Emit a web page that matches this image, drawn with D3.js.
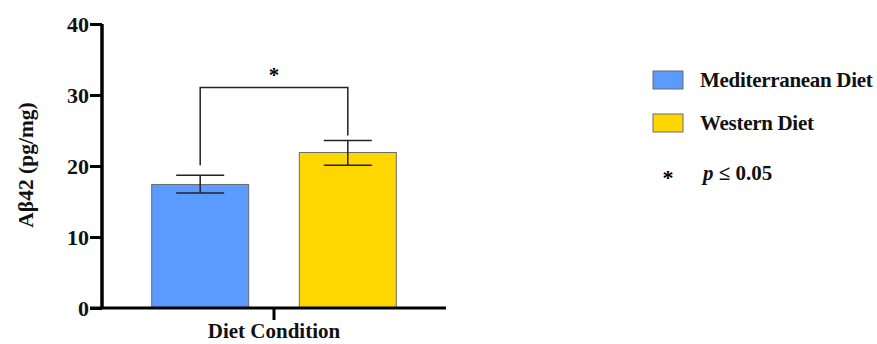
<!DOCTYPE html>
<html>
<head>
<meta charset="utf-8">
<script src="https://cdn.jsdelivr.net/npm/d3@7"></script>
<style>
  body { margin: 0; background: #fff; }
  svg { display: block; }
</style>
</head>
<body>
<div id="chart"></div>
<script>
// data
var groups = ["Mediterranean Diet", "Western Diet"];
var means = [17.4, 21.9];
var errLow = [16.2, 20.1];
var errHigh = [18.7, 23.6];
var colors = ["#5b9bff", "#ffd700"];
var yTicks = [0, 10, 20, 30, 40];
var xCategory = ["Diet Condition"];
var sigLabel = "*";

var serif = "'Liberation Serif', 'Times New Roman', Times, 'DejaVu Serif', serif";

var W = 877, H = 344;
var margin = {top: 24, left: 102, bottom: 36, right: 431};
var width = W - margin.left - margin.right,
    height = H - margin.top - margin.bottom;

var svg = d3.select("#chart")
  .append("svg")
    .attr("width", W)
    .attr("height", H);

var g = svg.append("g")
    .attr("transform", "translate(" + margin.left + "," + margin.top + ")");

var yScale = d3.scaleLinear()
    .domain([0, 40])
    .range([height, 0]);

var xScale = d3.scaleBand()
    .domain(groups)
    .range([49.7, 294.3])
    .paddingInner(0.343)
    .paddingOuter(0);

var xCat = d3.scaleBand()
    .domain(xCategory)
    .range([49.7, 294.3]);

// bars
g.selectAll("rect.bar")
  .data(groups)
  .enter()
  .append("rect")
    .attr("class", "bar")
    .attr("x", d => xScale(d))
    .attr("y", (d, i) => yScale(means[i]))
    .attr("width", xScale.bandwidth())
    .attr("height", (d, i) => yScale(0) - yScale(means[i]))
    .style("fill", (d, i) => colors[i])
    .style("stroke", "#6b6b6b")
    .style("stroke-width", 1);

// error bars
var capHalf = 24;
groups.forEach(function(d, i) {
  var cx = xScale(d) + xScale.bandwidth() / 2;
  g.append("line")
    .attr("x1", cx).attr("x2", cx)
    .attr("y1", yScale(errLow[i])).attr("y2", yScale(errHigh[i]))
    .style("stroke", "#222").style("stroke-width", 1.5);
  [errLow[i], errHigh[i]].forEach(function(v) {
    g.append("line")
      .attr("x1", cx - capHalf).attr("x2", cx + capHalf)
      .attr("y1", yScale(v)).attr("y2", yScale(v))
      .style("stroke", "#222").style("stroke-width", 1.5);
  });
});

// significance bracket
var bx1 = xScale(groups[0]) + xScale.bandwidth() / 2,
    bx2 = xScale(groups[1]) + xScale.bandwidth() / 2;
var bTop = yScale(31.05);
g.append("path")
  .attr("d", "M" + bx1 + "," + yScale(20.1) + "V" + bTop + "H" + bx2 + "V" + yScale(24.3))
  .style("fill", "none")
  .style("stroke", "#222")
  .style("stroke-width", 1.5);
g.append("text")
  .attr("x", (bx1 + bx2) / 2)
  .attr("y", bTop - 6)
  .attr("text-anchor", "middle")
  .style("font-size", "21px")
  .style("font-weight", "bold")
  .text(sigLabel);

// axes
var yAxis = g.append("g")
  .call(d3.axisLeft(yScale).tickValues(yTicks).tickSize(12).tickPadding(1));
yAxis.select(".domain").attr("d", "M0,0V" + height).style("stroke-width", 3.5);
yAxis.selectAll("line").style("stroke-width", 3);
yAxis.selectAll("text")
  .style("font-size", "22px")
  .style("font-weight", "bold")
  .attr("dy", "0.36em")
  .style("fill", "#111");

var xAxis = g.append("g")
  .attr("transform", "translate(0," + height + ")")
  .call(d3.axisBottom(xCat).tickSize(12).tickPadding(3));
xAxis.select(".domain").attr("d", "M-12,0H" + width).style("stroke-width", 3.2);
xAxis.selectAll("line").style("stroke-width", 3);
xAxis.selectAll("text")
  .attr("dy", "0.7em")
  .style("font-size", "21px")
  .style("font-weight", "bold")
  .style("fill", "#111");

// y axis title
svg.append("text")
  .attr("transform", "translate(33,165) rotate(-90)")
  .attr("text-anchor", "middle")
  .style("font-size", "21.5px")
  .style("font-weight", "bold")
  .style("fill", "#111")
  .text("Aβ42 (pg/mg)");

// legend
var legend = svg.append("g").attr("transform", "translate(653,71)");
groups.forEach(function(d, i) {
  var row = legend.append("g").attr("transform", "translate(0," + (i * 43) + ")");
  row.append("rect")
    .attr("width", 30).attr("height", 18)
    .style("fill", colors[i])
    .style("stroke", "#6b6b6b")
    .style("stroke-width", 1);
  row.append("text")
    .attr("x", 47).attr("y", 9)
    .attr("dy", "0.35em")
    .style("font-size", "21px")
    .style("font-weight", "bold")
    .style("letter-spacing", "-0.3px")
    .style("fill", "#111")
    .text(d);
});
var note = legend.append("g").attr("transform", "translate(0,102)");
note.append("text")
  .attr("x", 15).attr("y", 0)
  .attr("dy", "0.55em")
  .attr("text-anchor", "middle")
  .style("font-size", "22px")
  .style("font-weight", "bold")
  .text(sigLabel);
note.append("text")
  .attr("x", 50).attr("y", 0)
  .attr("dy", "0.35em")
  .style("font-size", "21px")
  .style("font-weight", "bold")
  .style("fill", "#111")
  .html('<tspan font-style="italic">p</tspan> ≤ 0.05');

// serif face everywhere, as in the original figure
svg.selectAll("text").style("font-family", serif);
</script>
</body>
</html>
